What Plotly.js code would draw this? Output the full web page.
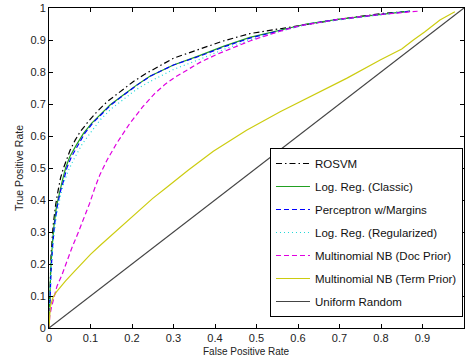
<!DOCTYPE html>
<html>
<head>
<meta charset="utf-8">
<script src="https://cdn.plot.ly/plotly-3.0.1.min.js"></script>
<style>html,body{margin:0;padding:0;background:#fff;}#chart{width:466px;height:358px;}</style>
</head>
<body>
<div id="chart"></div>
<script>
// ---- Data ----
const seriesNames = ["ROSVM", "Log. Reg. (Classic)", "Perceptron w/Margins", "Log. Reg. (Regularized)", "Multinomial NB (Doc Prior)", "Multinomial NB (Term Prior)", "Uniform Random"];

const rosvmX = [0, 0.002, 0.005, 0.01, 0.016, 0.022, 0.028, 0.035, 0.043, 0.051, 0.063, 0.075, 0.094, 0.115, 0.139, 0.171, 0.202, 0.236, 0.26, 0.30, 0.364, 0.42, 0.484, 0.565, 0.62, 0.70, 0.805, 0.87];
const rosvmY = [0, 0.12, 0.23, 0.32, 0.385, 0.43, 0.47, 0.50, 0.53, 0.556, 0.587, 0.613, 0.644, 0.675, 0.706, 0.738, 0.769, 0.797, 0.815, 0.843, 0.872, 0.897, 0.92, 0.937, 0.95, 0.965, 0.983, 0.99];

const classicX = [0, 0.001, 0.004, 0.008, 0.012, 0.018, 0.025, 0.032, 0.04, 0.05, 0.065, 0.083, 0.103, 0.123, 0.147, 0.179, 0.211, 0.243, 0.30, 0.364, 0.42, 0.484, 0.55, 0.62, 0.70, 0.80, 0.87];
const classicY = [0, 0.08, 0.18, 0.26, 0.32, 0.38, 0.425, 0.46, 0.50, 0.535, 0.57, 0.608, 0.64, 0.666, 0.697, 0.728, 0.759, 0.787, 0.822, 0.852, 0.88, 0.908, 0.928, 0.95, 0.965, 0.98, 0.99];

const perceptronX = [0, 0.002, 0.005, 0.009, 0.013, 0.02, 0.027, 0.035, 0.043, 0.054, 0.069, 0.086, 0.105, 0.125, 0.149, 0.18, 0.212, 0.244, 0.30, 0.364, 0.42, 0.484, 0.55, 0.62, 0.70, 0.80, 0.87];
const perceptronY = [0, 0.08, 0.18, 0.26, 0.32, 0.38, 0.425, 0.46, 0.50, 0.535, 0.57, 0.608, 0.64, 0.666, 0.697, 0.728, 0.759, 0.787, 0.822, 0.85, 0.878, 0.906, 0.927, 0.949, 0.965, 0.98, 0.99];

const regularizedX = [0, 0.002, 0.006, 0.011, 0.018, 0.027, 0.036, 0.046, 0.057, 0.067, 0.08, 0.10, 0.123, 0.15, 0.18, 0.21, 0.243, 0.30, 0.364, 0.42, 0.484, 0.55, 0.62, 0.70, 0.80, 0.87];
const regularizedY = [0, 0.10, 0.20, 0.28, 0.35, 0.41, 0.455, 0.49, 0.52, 0.546, 0.575, 0.61, 0.65, 0.685, 0.715, 0.745, 0.77, 0.808, 0.84, 0.87, 0.90, 0.925, 0.948, 0.963, 0.979, 0.99];

const docPriorX = [0, 0.002, 0.006, 0.01, 0.019, 0.031, 0.043, 0.055, 0.071, 0.085, 0.098, 0.111, 0.123, 0.14, 0.163, 0.195, 0.227, 0.255, 0.28, 0.305, 0.33, 0.364, 0.404, 0.44, 0.484, 0.55, 0.605, 0.70, 0.80, 0.89];
const docPriorY = [0, 0.04, 0.065, 0.085, 0.13, 0.165, 0.21, 0.25, 0.30, 0.345, 0.39, 0.44, 0.48, 0.525, 0.577, 0.64, 0.693, 0.733, 0.762, 0.785, 0.805, 0.83, 0.855, 0.875, 0.897, 0.925, 0.945, 0.965, 0.98, 0.99];

const termPriorX = [0, 0.001, 0.003, 0.006, 0.01, 0.018, 0.027, 0.04, 0.059, 0.08, 0.10, 0.123, 0.163, 0.203, 0.25, 0.284, 0.336, 0.396, 0.476, 0.557, 0.637, 0.717, 0.798, 0.85, 0.878, 0.905, 0.942, 0.978];
const termPriorY = [0, 0.045, 0.065, 0.08, 0.097, 0.113, 0.128, 0.147, 0.174, 0.203, 0.23, 0.258, 0.305, 0.352, 0.405, 0.44, 0.494, 0.552, 0.618, 0.676, 0.728, 0.78, 0.8375, 0.872, 0.90, 0.925, 0.9625, 0.988];

const randomX = [0, 1];
const randomY = [0, 1];

const tickVals = [0, 0.1, 0.2, 0.3, 0.4, 0.5, 0.6, 0.7, 0.8, 0.9, 1];
const tickText = ["0", "0.1", "0.2", "0.3", "0.4", "0.5", "0.6", "0.7", "0.8", "0.9", "1"];

// ---- Styles ----
const FONT = "Liberation Sans, Arial, Helvetica, sans-serif";
const styles = [
  {color: "#000000", dash: "6px,3px,1.5px,3px"},
  {color: "#22a022", dash: "solid"},
  {color: "#0000ff", dash: "5px,3px"},
  {color: "#22d8d8", dash: "1px,3px"},
  {color: "#e000e0", dash: "5px,3px"},
  {color: "#cccc10", dash: "solid"},
  {color: "#444444", dash: "solid"}
];
const xs = [rosvmX, classicX, perceptronX, regularizedX, docPriorX, termPriorX, randomX];
const ys = [rosvmY, classicY, perceptronY, regularizedY, docPriorY, termPriorY, randomY];

const traces = seriesNames.map((name, i) => ({
  x: xs[i], y: ys[i], name: name, type: "scatter", mode: "lines",
  line: {color: styles[i].color, dash: styles[i].dash, width: 1.2},
  legendgroup: "g" + i
}));

const axisCommon = {
  range: [0, 1], tickvals: tickVals, ticktext: tickText,
  showgrid: false, zeroline: false, showline: true, linecolor: "#000", linewidth: 1,
  mirror: "ticks", ticks: "inside", ticklen: 4, tickcolor: "#000", tickwidth: 1,
  tickfont: {family: FONT, size: 11, color: "#222"}, fixedrange: true
};

const layout = {
  width: 466, height: 358,
  margin: {l: 49, r: 2, t: 8, b: 30, pad: 0},
  paper_bgcolor: "#fff", plot_bgcolor: "#fff",
  showlegend: true,
  xaxis: Object.assign({}, axisCommon),
  yaxis: Object.assign({}, axisCommon),
  legend: {
    x: 0.5325, y: 0.5625, xanchor: "left", yanchor: "top",
    bgcolor: "#fff", bordercolor: "#000", borderwidth: 1,
    font: {family: FONT, size: 11.5, color: "#111"},
    tracegroupgap: 4, itemwidth: 34
  },
  annotations: [
    {text: "False Positive Rate", xref: "paper", yref: "paper", x: 0.477, y: -0.0719,
     xanchor: "center", yanchor: "middle", showarrow: false,
     font: {family: FONT, size: 10, color: "#222"}},
    {text: "True Positive Rate", xref: "paper", yref: "paper", x: -0.0723, y: 0.5,
     xanchor: "center", yanchor: "middle", showarrow: false, textangle: -90,
     font: {family: FONT, size: 10.5, color: "#222"}}
  ]
};

Plotly.newPlot("chart", traces, layout, {staticPlot: true, displayModeBar: false});
</script>
</body>
</html>
